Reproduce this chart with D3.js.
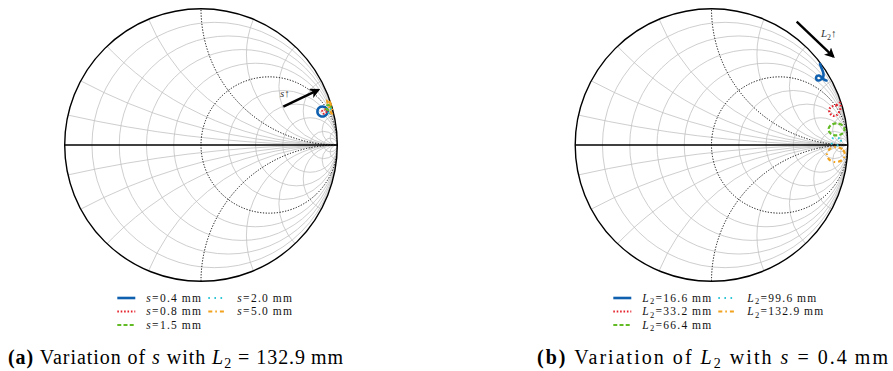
<!DOCTYPE html>
<html>
<head>
<meta charset="utf-8">
<script src="https://cdn.jsdelivr.net/npm/d3@7"></script>
<style>
  body { margin: 0; background: #fff; }
  svg { display: block; font-family: "Liberation Serif", "DejaVu Serif", serif; }
</style>
</head>
<body>
<div id="chart"></div>
<script>
// Smith chart grid (normalised impedance values)
var gridR = [1/9, 1/4, 3/7, 2/3, 3/2, 7/3, 4, 9, 19];
var gridX = [1/9, 1/4, 3/7, 2/3, 3/2, 7/3, 4, 9, 19];
var heavyR = [1];
var heavyX = [1, -1];

// panel (a): reflection coefficient [re, im] for each spacing s (mm)
var sLabels = ["0.4", "0.8", "1.5", "2.0", "5.0"];
var sCurve04 = [[0.928,0.246],[0.923,0.265],[0.909,0.278],[0.891,0.283],[0.873,0.278],[0.859,0.265],
                [0.854,0.246],[0.859,0.227],[0.873,0.214],[0.891,0.209],[0.909,0.214],[0.923,0.227]];
var sCurve08 = [[0.921,0.245],[0.916,0.256],[0.905,0.261],[0.894,0.256],[0.889,0.245],[0.894,0.234],[0.905,0.229],[0.916,0.234]];
var sCurve15 = [[0.953,0.275],[0.948,0.288],[0.935,0.293],[0.922,0.288],[0.917,0.275],[0.922,0.262],[0.935,0.257],[0.948,0.262]];
var sCurve20 = [[0.960,0.250],[0.956,0.261],[0.945,0.265],[0.934,0.261],[0.930,0.250],[0.934,0.239],[0.945,0.235],[0.956,0.239]];
var sCurve50 = [[0.935,0.335],[0.945,0.315],[0.955,0.290],[0.962,0.262],[0.968,0.235],[0.958,0.232],
                [0.948,0.255],[0.938,0.285],[0.928,0.310],[0.925,0.330]];

// panel (b): reflection coefficient [re, im] for each length L2 (mm)
var lLabels = ["16.6", "33.2", "66.4", "99.6", "132.9"];
var lCurve166 = [[0.796,0.594],[0.807,0.565],[0.818,0.536],[0.822,0.510],[0.811,0.488],[0.789,0.473],
                 [0.770,0.481],[0.770,0.503],[0.789,0.510],[0.811,0.495],[0.829,0.477],[0.844,0.473]];
var lCurve332 = [[0.943,0.310],[0.919,0.293],[0.882,0.281],[0.864,0.262],[0.869,0.233],[0.894,0.213],
                 [0.919,0.220],[0.938,0.244],[0.948,0.281]];
var lCurve664 = [[0.976,0.114],[0.959,0.145],[0.917,0.158],[0.875,0.145],[0.858,0.114],[0.875,0.083],[0.917,0.070],[0.959,0.083]];
var lCurve996 = [[0.950,0.026],[0.939,0.047],[0.913,0.055],[0.887,0.047],[0.876,0.026],[0.887,0.005],[0.913,-0.003],[0.939,0.005]];
var lCurve1329 = [[0.979,-0.070],[0.960,-0.031],[0.913,-0.015],[0.866,-0.031],[0.847,-0.070],[0.866,-0.109],[0.913,-0.125],[0.960,-0.109]];

// trend arrows [tail, head] and label anchor, in reflection coefficient units
var sArrow = [[0.604,0.281],[0.861,0.404]], sArrowLabel = [0.580,0.352];
var lArrow = [[0.625,0.905],[0.894,0.648]], lArrowLabel = [0.803,0.792];

var styles = [
  { color: "#1060b0", dash: null, width: 2.6 },
  { color: "#e5222c", dash: "1.6,1.8", width: 2.2 },
  { color: "#62bb25", dash: "4,2.2", width: 2.2 },
  { color: "#2cc6d6", dash: "1.6,4.5", width: 2.2 },
  { color: "#f2a21c", dash: "4,3,1.6,3", width: 2.2 }
];

var W = 893, H = 371, R = 136.3, cy = 145;

var svg = d3.select("#chart").append("svg")
    .attr("width", W).attr("height", H);

var defs = svg.append("defs");
defs.append("marker")
    .attr("id", "arrowhead")
    .attr("viewBox", "0 0 10 10")
    .attr("refX", 8).attr("refY", 5)
    .attr("markerWidth", 4.2).attr("markerHeight", 4.2)
    .attr("orient", "auto")
    .append("path")
    .attr("d", "M0,0 L10,5 L0,10 L2.5,5 Z")
    .attr("fill", "#000");

// stretch a text node to the wider Computer Modern set width
function stretch(t, factor) {
    var n = t.node().getComputedTextLength();
    t.attr("textLength", n * factor).attr("lengthAdjust", "spacing");
}

function drawSmith(id, cx, curves, arrow, arrowLabel, labelFn, legendCols, captionFn, captionX, captionW) {
    var x = d3.scaleLinear().domain([-1, 1]).range([cx - R, cx + R]);
    var y = d3.scaleLinear().domain([-1, 1]).range([cy + R, cy - R]);
    var k = x(1) - x(0);

    defs.append("clipPath").attr("id", "clip-" + id)
        .append("circle").attr("cx", x(0)).attr("cy", y(0)).attr("r", R);

    var g = svg.append("g");
    var grid = g.append("g").attr("clip-path", "url(#clip-" + id + ")");

    // light resistance circles
    grid.selectAll(".rc").data(gridR).enter().append("circle")
        .attr("class", "rc")
        .attr("cx", d => x(d / (1 + d))).attr("cy", y(0))
        .attr("r", d => k / (1 + d))
        .attr("fill", "none").attr("stroke", "#c2c2c2").attr("stroke-width", 0.8);

    // light reactance arcs (both signs)
    var xs = gridX.concat(gridX.map(d => -d));
    grid.selectAll(".xc").data(xs).enter().append("circle")
        .attr("class", "xc")
        .attr("cx", x(1)).attr("cy", d => y(1 / d))
        .attr("r", d => k / Math.abs(d))
        .attr("fill", "none").attr("stroke", "#c2c2c2").attr("stroke-width", 0.8);

    // heavy dotted r = 1 and x = +-1
    grid.selectAll(".hr").data(heavyR).enter().append("circle")
        .attr("cx", d => x(d / (1 + d))).attr("cy", y(0))
        .attr("r", d => k / (1 + d))
        .attr("fill", "none").attr("stroke", "#000").attr("stroke-width", 1)
        .attr("stroke-dasharray", "1.2,1.6");
    grid.selectAll(".hx").data(heavyX).enter().append("circle")
        .attr("cx", x(1)).attr("cy", d => y(1 / d))
        .attr("r", d => k / Math.abs(d))
        .attr("fill", "none").attr("stroke", "#000").attr("stroke-width", 1)
        .attr("stroke-dasharray", "1.2,1.6");

    // real axis and outer circle
    g.append("line")
        .attr("x1", x(-1)).attr("x2", x(1)).attr("y1", y(0)).attr("y2", y(0))
        .attr("stroke", "#000").attr("stroke-width", 1.5);
    g.append("circle")
        .attr("cx", x(0)).attr("cy", y(0)).attr("r", R)
        .attr("fill", "none").attr("stroke", "#000").attr("stroke-width", 1.4);

    // data loops
    var closedLine = d3.line().x(d => x(d[0])).y(d => y(d[1])).curve(d3.curveCatmullRomClosed);
    var openLine = d3.line().x(d => x(d[0])).y(d => y(d[1])).curve(d3.curveCatmullRom);
    curves.forEach(function (c, i) {
        var st = styles[i];
        g.append("path")
            .attr("d", c.closed ? closedLine(c.pts) : openLine(c.pts))
            .attr("fill", "none")
            .attr("stroke", st.color)
            .attr("stroke-width", st.width)
            .attr("stroke-dasharray", st.dash)
            .attr("stroke-linecap", st.dash ? "butt" : "round");
    });

    // trend arrow
    g.append("line")
        .attr("x1", x(arrow[0][0])).attr("y1", y(arrow[0][1]))
        .attr("x2", x(arrow[1][0])).attr("y2", y(arrow[1][1]))
        .attr("stroke", "#000").attr("stroke-width", 2.4)
        .attr("marker-end", "url(#arrowhead)");
    var lab = g.append("text")
        .attr("x", x(arrowLabel[0])).attr("y", y(arrowLabel[1]))
        .attr("font-size", 11).attr("fill", "#333");
    labelFn(lab);

    // legend
    var rowY = [298, 311.5, 325];
    curves.forEach(function (c, i) {
        var st = styles[i];
        var col = i < 3 ? 0 : 1;
        var row = i < 3 ? i : i - 3;
        var lx = legendCols[col], ly = rowY[row];
        g.append("line")
            .attr("x1", lx).attr("x2", lx + 18).attr("y1", ly).attr("y2", ly)
            .attr("stroke", st.color).attr("stroke-width", st.width)
            .attr("stroke-dasharray", st.dash);
        var t = g.append("text").attr("x", lx + 29).attr("y", ly + 3.8)
            .attr("font-size", 11.5).attr("fill", "#111");
        c.legend(t);
        stretch(t, 1.2);
    });

    // caption
    var cap = svg.append("text").attr("x", captionX).attr("y", 364)
        .attr("font-size", 20).attr("fill", "#000");
    captionFn(cap);
    cap.attr("textLength", captionW).attr("lengthAdjust", "spacing");
}

function sLegend(v) {
    return function (t) {
        t.append("tspan").attr("font-style", "italic").text("s");
        t.append("tspan").text("=" + v + "\u2009mm");
    };
}
function lLegend(v) {
    return function (t) {
        t.append("tspan").attr("font-style", "italic").text("L");
        t.append("tspan").attr("font-size", 8.5).attr("dy", 2.3).text("2");
        t.append("tspan").attr("dy", -2.3).text("=" + v + "\u2009mm");
    };
}

var sCurves = [sCurve04, sCurve08, sCurve15, sCurve20, sCurve50].map(function (p, i) {
    return { pts: p, closed: true, legend: sLegend(sLabels[i]) };
});
var lCurves = [lCurve166, lCurve332, lCurve664, lCurve996, lCurve1329].map(function (p, i) {
    return { pts: p, closed: i > 0, legend: lLegend(lLabels[i]) };
});

drawSmith("a", 201, sCurves, sArrow, sArrowLabel, function (t) {
    t.append("tspan").attr("font-style", "italic").text("s");
    t.append("tspan").text("\u2191");
}, [117.3, 208.3], function (t) {
    t.append("tspan").attr("font-weight", "bold").text("(a)");
    t.append("tspan").text(" Variation of ");
    t.append("tspan").attr("font-style", "italic").text("s");
    t.append("tspan").text(" with ");
    t.append("tspan").attr("font-style", "italic").text("L");
    t.append("tspan").attr("font-size", 14).attr("dy", 4).text("2");
    t.append("tspan").attr("dy", -4).text(" = 132.9\u2009mm");
}, 8, 335);

drawSmith("b", 711.5, lCurves, lArrow, lArrowLabel, function (t) {
    t.append("tspan").attr("font-style", "italic").text("L");
    t.append("tspan").attr("font-size", 8).attr("dy", 2.5).text("2");
    t.append("tspan").attr("dy", -2.5).text("\u2191");
}, [613.3, 718.3], function (t) {
    t.append("tspan").attr("font-weight", "bold").text("(b)");
    t.append("tspan").text(" Variation of ");
    t.append("tspan").attr("font-style", "italic").text("L");
    t.append("tspan").attr("font-size", 14).attr("dy", 4).text("2");
    t.append("tspan").attr("dy", -4).text(" with ");
    t.append("tspan").attr("font-style", "italic").text("s");
    t.append("tspan").text(" = 0.4\u2009mm");
}, 537, 351);
</script>
</body>
</html>
